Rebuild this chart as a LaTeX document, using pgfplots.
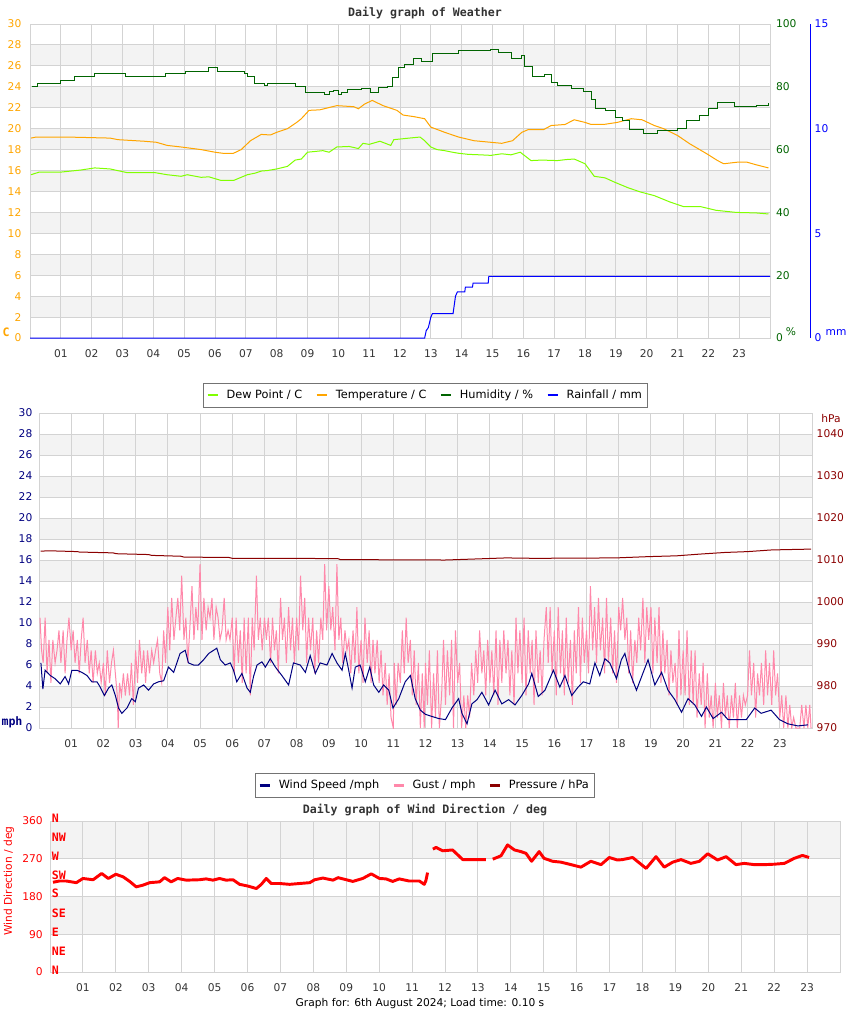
\documentclass[border=0pt]{standalone}
\usepackage{fontspec}
\setmainfont{DejaVu Sans}
\newfontfamily\mono{DejaVu Sans Mono}
\usepackage{pgfplots}
\pgfplotsset{compat=1.18}

\definecolor{tempc}{HTML}{FFA500}
\definecolor{dewc}{HTML}{80FF00}
\definecolor{humc}{HTML}{006400}
\definecolor{rainc}{HTML}{0000FF}
\definecolor{windc}{HTML}{000080}
\definecolor{gustc}{HTML}{FF88AA}
\definecolor{presc}{HTML}{8B0000}
\definecolor{dirc}{HTML}{FF0000}
\definecolor{gridc}{HTML}{D3D3D3}
\definecolor{bandc}{HTML}{F3F3F3}
\definecolor{tickc}{HTML}{333333}

% 1 px of the reference = 0.75pt
\pgfplotsset{
  base/.style={scale only axis, anchor=south west, xmin=0, xmax=24,
    major tick length=0pt, axis line style={gridc, line width=0.75pt},
    tick label style={font=\fontsize{8}{9}\selectfont},
    /pgf/number format/assume math mode=true,
    /pgf/number format/set thousands separator={}},
  xdeco/.style={xtick={1,...,23},
    xticklabels={01,02,03,04,05,06,07,08,09,10,11,12,13,14,15,16,17,18,19,20,21,22,23},
    xticklabel style={tickc, yshift=-5pt},
    xmajorgrids, ymajorgrids, grid style={gridc, line width=0.75pt}},
  leg/.style={legend columns=-1, legend cell align=left,
    legend style={draw=black!55, line width=0.75pt, fill=white,
      font=\fontsize{8.5}{10}\selectfont, inner xsep=2pt, inner ysep=3pt,
      /tikz/every odd column/.append style={column sep=4pt},
      /tikz/every even column/.append style={column sep=8pt}},
    legend image code/.code={\draw[##1, line width=1.6pt] (0pt,0pt) -- (7.5pt,0pt);}},
  p1/.style={at={(22.5pt,-253.5pt)}, width=555pt, height=235.5pt},
  p2/.style={at={(29.25pt,-546pt)}, width=579.75pt, height=236.25pt},
  p3/.style={at={(37.5pt,-729pt)}, width=592.5pt, height=113.25pt},
}

\begin{document}
\begin{tikzpicture}
\path[use as bounding box] (0pt,0pt) rectangle (637.5pt,-762.75pt);

\begin{scope}[x=0.75pt, y=0.75pt]
% background bands
\foreach \a in {2,6,...,26}{
  \fill[bandc] (30,{-338+\a*10.4667}) rectangle (770,{-338+(\a+2)*10.4667});
  \fill[bandc] (39,{-728+\a*10.5}) rectangle (812,{-728+(\a+2)*10.5});
}
\foreach \a in {90,270}{
  \fill[bandc] (50,{-972+\a*0.41944}) rectangle (840,{-972+(\a+90)*0.41944});
}

% titles and texts
\node[font={\mono\bfseries\fontsize{8.7}{10}\selectfont}, text=tickc] at (425,-13) {Daily graph of Weather};
\node[font={\mono\bfseries\fontsize{8.7}{10}\selectfont}, text=tickc, anchor=base] at (425,-405.5) {Daily graph of Wind};
\node[font={\mono\bfseries\fontsize{8.7}{10}\selectfont}, text=tickc] at (425,-810) {Daily graph of Wind Direction / deg};
\node[font={\fontsize{8}{9}\selectfont}] at (420,-1004) {Graph for: 6th August 2024; Load time: 0.10 s};
\node[font={\mono\bfseries\fontsize{8.7}{10}\selectfont}, text=tempc] at (6,-332) {C};
\node[font={\fontsize{8}{9}\selectfont}, text=humc] at (791,-332) {\%};
\node[font={\fontsize{8}{9}\selectfont}, text=rainc] at (836,-333) {mm};
\node[font={\mono\bfseries\fontsize{8.7}{10}\selectfont}, text=windc] at (12,-722) {mph};
\node[font={\fontsize{8}{9}\selectfont}, text=presc] at (831,-419) {hPa};
\node[font={\fontsize{8}{9}\selectfont}, text=dirc, rotate=90] at (9,-881) {Wind Direction / deg};
\end{scope}

% ---------- panel 1: weather ----------
\begin{axis}[base, xdeco, p1,
  ymin=0, ymax=30, ytick={0,2,...,30}, yticklabel style={tempc, xshift=-3pt}]
\addplot[dewc, line width=0.75pt] coordinates {
(0.03,15.6)(0.3,15.85)(1.0,15.85)(1.65,16.05)(2.1,16.25)(2.6,16.15)(3.15,15.8)
(4.05,15.8)(4.45,15.6)(4.9,15.45)(5.1,15.6)(5.55,15.35)(5.8,15.4)(6.2,15.05)
(6.6,15.05)(7.05,15.6)(7.3,15.75)(7.5,15.95)(7.7,16.0)(8.0,16.15)(8.35,16.4)(8.6,17.0)
(8.8,17.1)(9.0,17.75)(9.5,17.9)(9.7,17.75)(9.95,18.25)(10.35,18.3)(10.65,18.1)
(10.8,18.6)(11.0,18.5)(11.35,18.8)(11.7,18.4)(11.8,18.95)(12.3,19.1)(12.65,19.2)(12.8,18.85)
(13.0,18.25)(13.2,18.0)(13.45,17.9)(13.7,17.75)(13.9,17.65)(14.2,17.55)(14.6,17.5)(14.95,17.45)
(15.3,17.6)(15.6,17.5)(15.9,17.75)(16.25,16.95)(16.6,17.0)(17.1,16.95)(17.4,17.05)(17.65,17.1)
(18.0,16.65)(18.3,15.45)(18.65,15.3)(18.95,14.9)(19.4,14.35)(19.8,13.95)
(20.25,13.6)(20.75,13.0)(21.2,12.55)(21.75,12.55)(22.25,12.2)(22.9,12.0)
(23.55,11.95)(23.95,11.85)};
\addplot[tempc, line width=0.75pt] coordinates {
(0.03,19.1)(0.2,19.2)(1.2,19.2)(2.6,19.1)(2.85,18.95)(3.7,18.8)(4.1,18.7)
(4.45,18.4)(4.9,18.25)(5.55,18.0)(6.0,17.75)(6.25,17.65)(6.6,17.65)(6.85,18.0)
(7.15,18.85)(7.5,19.45)(7.8,19.4)(8.0,19.65)(8.35,20.0)(8.65,20.6)(8.8,20.95)
(9.05,21.75)(9.4,21.8)(9.95,22.2)(10.5,22.1)(10.65,21.9)(10.85,22.35)(11.1,22.7)
(11.45,22.2)(11.9,21.75)(12.1,21.3)(12.45,21.15)(12.8,20.95)(13.0,20.15)
(13.45,19.65)(13.9,19.2)(14.4,18.85)(15.3,18.6)(15.65,18.85)(15.95,19.65)
(16.15,19.9)(16.65,19.9)(16.9,20.3)(17.35,20.4)(17.65,20.85)(18.0,20.6)(18.2,20.4)
(18.6,20.4)(19.05,20.6)(19.5,20.95)(19.85,20.85)(20.25,20.3)(20.55,20.0)
(21.0,19.35)(21.4,18.55)(21.95,17.6)(22.3,16.95)(22.5,16.65)(22.95,16.8)
(23.25,16.8)(23.55,16.55)(23.95,16.25)};
\end{axis}

\begin{axis}[base, p1,
  ymin=0, ymax=100, ytick={0,20,...,100}, axis y line*=right, hide x axis,
  yticklabel style={humc, xshift=1pt}]
\addplot[humc, const plot, line width=0.75pt] coordinates {
(0.05,80.1)(0.25,80.9)(1.0,82.0)(1.45,83.2)(2.1,84.1)(3.1,83.2)(4.4,84.1)
(5.05,85.0)(5.78,86.0)(6.08,85.0)(6.85,85.0)(6.95,84.2)(7.05,83.2)(7.27,81.2)
(7.6,80.4)(7.7,81.0)(8.6,80.1)(8.95,78.2)(9.55,77.4)(9.7,78.5)(9.85,78.8)
(10.0,77.4)(10.1,78.2)(10.3,79.0)(10.75,79.6)(11.05,78.2)(11.3,79.8)(11.6,80.1)
(11.75,83.0)(11.95,86.2)(12.15,87.1)(12.45,88.9)(12.7,88.0)(13.05,90.5)
(13.9,91.5)(14.95,91.9)(15.2,91.0)(15.6,88.9)(15.95,89.9)(16.05,86.5)(16.3,83.2)
(16.7,83.9)(16.9,81.4)(17.1,80.4)(17.55,79.6)(17.95,78.6)(18.2,76.1)(18.35,73.0)
(18.65,72.6)(19.0,70.3)(19.2,69.2)(19.45,66.3)(19.8,66.3)(19.9,65.0)(20.35,66.1)
(21.0,66.8)(21.3,69.2)(21.7,70.8)(22.0,73.0)(22.3,74.9)(22.85,73.7)(23.15,73.7)
(23.55,73.9)(23.95,74.9)};
\end{axis}

\begin{axis}[base, leg, p1,
  ymin=0, ymax=15, ytick={0,5,10,15}, axis y line*=right, hide x axis,
  axis y line shift=30pt, y axis line style={rainc, line width=0.75pt},
  yticklabel style={rainc},
  legend style={at={(0.5345,-0.143)}, anchor=north}]
\addlegendimage{dewc}\addlegendentry{Dew Point / C}
\addlegendimage{tempc}\addlegendentry{Temperature / C}
\addlegendimage{humc}\addlegendentry{Humidity / \%}
\addlegendimage{rainc}\addlegendentry{Rainfall / mm}
\addplot[rainc, line width=0.75pt, forget plot] coordinates {
(0,0)(12.8,0)(12.85,0.35)(12.92,0.5)(13.0,1.0)(13.05,1.16)(13.72,1.16)(13.8,2.0)
(13.86,2.2)(14.1,2.2)(14.12,2.43)(14.35,2.43)(14.37,2.62)(14.86,2.62)(14.88,2.95)(24,2.95)};
\end{axis}

% ---------- panel 2: wind and pressure ----------
\begin{axis}[base, xdeco, p2,
  ymin=0, ymax=30, ytick={0,2,...,30}, yticklabel style={windc, xshift=-1.5pt}]
\addplot[gustc, line width=0.75pt] coordinates {
(0.03,10.5)(0.08,7.4)(0.13,6.2)(0.19,10.5)(0.25,5.2)(0.31,8.4)(0.37,4.3)(0.43,8.4)
(0.5,6.2)(0.56,7.4)(0.62,9.3)(0.68,6.2)(0.75,9.3)(0.81,5.2)(0.87,8.4)(0.93,10.5)(1.0,7.4)
(1.06,9.3)(1.12,6.2)(1.19,8.4)(1.25,5.2)(1.31,8.4)(1.37,10.5)(1.43,6.2)(1.5,8.4)
(1.56,5.2)(1.62,7.4)(1.68,4.3)(1.75,7.4)(1.81,5.2)(1.87,6.2)(1.93,4.3)(2.0,6.2)
(2.06,3.1)(2.12,7.4)(2.19,4.3)(2.25,6.2)(2.31,7.4)(2.37,5.2)(2.43,3.1)(2.46,0)
(2.5,4.3)(2.56,3.1)(2.62,5.2)(2.68,3.1)(2.75,5.2)(2.81,3.1)(2.87,6.2)(2.93,2.2)(3.0,7.4)
(3.06,4.3)(3.12,8.4)(3.19,5.2)(3.25,7.4)(3.31,4.3)(3.37,7.4)(3.43,5.2)(3.5,7.4)
(3.56,6.2)(3.62,7.4)(3.68,8.4)(3.75,5.2)(3.81,4.3)(3.87,9.3)(3.93,6.2)(4.0,11.5)
(4.06,7.4)(4.12,12.4)(4.19,8.4)(4.25,10.5)(4.31,12.4)(4.37,9.3)(4.43,14.5)(4.5,8.4)
(4.56,10.5)(4.62,6.2)(4.68,9.3)(4.75,13.5)(4.81,8.4)(4.87,11.5)(4.93,9.3)(5.0,15.6)
(5.06,8.4)(5.12,12.4)(5.19,9.3)(5.25,11.5)(5.31,10.5)(5.37,12.4)(5.43,8.4)(5.5,11.5)
(5.56,10.5)(5.62,8.4)(5.68,9.3)(5.75,12.4)(5.81,8.4)(5.87,9.3)(5.93,8.4)(6.0,10.5)
(6.06,5.2)(6.12,10.5)(6.19,6.2)(6.25,9.3)(6.31,4.3)(6.37,10.5)(6.43,5.2)(6.5,10.5)
(6.56,3.1)(6.62,10.5)(6.68,7.4)(6.75,14.5)(6.81,8.4)(6.87,10.5)(6.93,7.4)(7.0,10.5)
(7.06,8.4)(7.12,10.5)(7.19,6.2)(7.25,10.5)(7.31,7.4)(7.37,9.3)(7.43,5.2)(7.5,12.4)
(7.56,8.4)(7.62,10.5)(7.68,6.2)(7.75,11.5)(7.81,7.4)(7.87,10.5)(7.93,6.2)(8.0,10.5)
(8.06,7.4)(8.12,14.5)(8.19,9.3)(8.25,12.4)(8.31,6.2)(8.37,10.5)(8.43,7.4)(8.5,10.5)
(8.56,5.2)(8.62,9.3)(8.68,6.2)(8.75,10.5)(8.81,8.4)(8.87,15.6)(8.93,9.3)(9.0,13.5)
(9.06,9.3)(9.12,11.5)(9.19,7.4)(9.25,15.6)(9.31,8.4)(9.37,10.5)(9.43,6.2)(9.5,9.3)
(9.56,7.4)(9.62,8.4)(9.68,5.2)(9.75,9.3)(9.81,6.2)(9.87,11.5)(9.93,5.2)(10.0,8.4)
(10.06,4.3)(10.12,10.5)(10.19,6.2)(10.25,9.3)(10.31,4.3)(10.37,8.4)(10.43,5.2)(10.5,8.4)
(10.56,4.3)(10.62,7.4)(10.68,3.1)(10.75,6.2)(10.81,2.2)(10.87,5.2)(10.93,1.0)(11.0,0)
(11.03,6.2)(11.09,2.2)(11.15,6.2)(11.22,4.3)(11.28,9.3)(11.34,5.2)(11.4,10.5)(11.46,6.2)
(11.53,8.4)(11.59,3.1)(11.65,7.4)(11.71,2.2)(11.78,6.2)(11.84,0)(11.9,5.2)(11.96,0)(12.0,6.2)
(12.06,2.2)(12.12,7.4)(12.19,0)(12.25,5.2)(12.31,1.0)(12.37,7.4)(12.43,0)(12.5,3.1)
(12.56,8.4)(12.62,2.2)(12.68,7.4)(12.75,3.1)(12.81,8.4)(12.87,0)(12.93,9.3)(13.0,4.3)
(13.06,6.2)(13.12,0)(13.19,3.1)(13.25,0)(13.31,3.1)(13.37,1.0)(13.43,6.2)(13.5,3.1)
(13.56,7.4)(13.62,4.3)(13.68,9.3)(13.75,5.2)(13.81,7.4)(13.87,3.1)(13.93,8.4)(14.0,4.3)
(14.06,7.4)(14.12,3.1)(14.19,9.3)(14.25,2.2)(14.31,8.4)(14.37,4.3)(14.43,9.3)(14.5,5.2)
(14.56,8.4)(14.62,3.1)(14.68,7.4)(14.75,2.2)(14.81,10.5)(14.87,5.2)(14.93,9.3)(15.0,4.3)
(15.06,10.5)(15.12,3.1)(15.19,9.3)(15.25,5.2)(15.31,8.4)(15.37,2.2)(15.43,9.3)(15.5,4.3)
(15.56,7.4)(15.62,3.1)(15.68,8.4)(15.75,11.5)(15.81,6.2)(15.87,11.5)(15.93,5.2)(16.0,9.3)
(16.06,3.1)(16.12,11.5)(16.19,5.2)(16.25,9.3)(16.31,3.1)(16.37,10.5)(16.43,4.3)(16.5,8.4)
(16.56,2.2)(16.62,9.3)(16.68,5.2)(16.75,11.5)(16.81,4.3)(16.87,10.5)(16.93,6.2)(17.0,9.3)
(17.06,5.2)(17.12,13.5)(17.19,7.4)(17.25,11.5)(17.31,6.2)(17.37,12.4)(17.43,7.4)(17.5,10.5)
(17.56,5.2)(17.62,12.4)(17.68,6.2)(17.75,10.5)(17.81,5.2)(17.87,9.3)(17.93,4.3)(18.0,11.5)
(18.06,9.3)(18.12,12.4)(18.19,8.4)(18.25,10.5)(18.31,5.2)(18.37,9.3)(18.43,4.3)(18.5,8.4)
(18.56,6.2)(18.62,10.5)(18.68,7.4)(18.75,12.4)(18.81,6.2)(18.87,11.5)(18.93,8.4)(19.0,11.5)
(19.06,5.2)(19.12,10.5)(19.19,6.2)(19.25,11.5)(19.31,4.3)(19.37,9.3)(19.43,5.2)(19.5,8.4)
(19.56,3.1)(19.62,7.4)(19.68,4.3)(19.75,6.2)(19.81,2.2)(19.87,9.3)(19.93,3.1)(20.0,7.4)
(20.06,3.1)(20.12,9.3)(20.19,2.2)(20.25,7.4)(20.31,2.2)(20.37,7.4)(20.43,1.0)(20.5,5.2)
(20.56,2.2)(20.62,6.2)(20.68,0)(20.75,5.2)(20.81,1.0)(20.87,3.1)(20.93,0)(21.0,4.3)
(21.06,1.0)(21.12,3.1)(21.19,0)(21.25,4.3)(21.31,1.0)(21.37,3.1)(21.43,0)(21.5,3.1)
(21.56,1.0)(21.62,4.3)(21.68,0)(21.75,3.1)(21.81,1.0)(21.87,3.1)(21.93,2.2)(22.0,3.1)
(22.06,7.4)(22.12,3.1)(22.19,6.2)(22.25,1.0)(22.31,5.2)(22.37,3.1)(22.43,6.2)(22.5,2.2)
(22.56,7.4)(22.62,3.1)(22.68,6.2)(22.75,2.2)(22.81,7.4)(22.87,3.1)(22.93,5.2)(23.0,1.0)
(23.06,3.1)(23.12,0)(23.19,3.1)(23.25,0)(23.31,2.2)(23.37,0)(23.43,1.0)(23.5,0)
(23.56,0)(23.62,0)(23.68,2.2)(23.75,0)(23.81,2.2)(23.87,0)(23.93,2.2)(23.97,0)};
\addplot[windc, line width=0.75pt] coordinates {
(0.06,6.2)(0.12,3.7)(0.19,5.5)(0.35,5.0)(0.5,4.7)(0.66,4.2)(0.81,4.9)(0.92,4.2)
(1.02,5.5)(1.18,5.5)(1.33,5.3)(1.49,5.0)(1.64,4.4)(1.8,4.4)(1.9,3.9)(2.03,3.1)
(2.16,3.8)(2.26,4.1)(2.37,3.1)(2.47,1.9)(2.57,1.4)(2.73,1.9)(2.88,2.8)(2.99,2.5)
(3.09,3.8)(3.25,4.1)(3.4,3.6)(3.56,4.2)(3.71,4.4)(3.87,4.5)(4.02,5.8)(4.18,5.3)
(4.38,7.1)(4.54,7.4)(4.64,6.2)(4.8,6.0)(4.95,6.0)(5.11,6.5)(5.27,7.1)(5.52,7.6)
(5.63,6.5)(5.78,6.0)(5.94,6.2)(6.04,5.5)(6.14,4.4)(6.3,5.2)(6.46,3.8)(6.56,3.4)
(6.66,4.9)(6.77,6.0)(6.92,6.3)(7.03,5.8)(7.18,6.6)(7.34,5.8)(7.54,5.0)(7.75,4.1)
(7.9,6.2)(8.11,6.0)(8.27,5.3)(8.42,6.9)(8.58,5.2)(8.73,6.2)(8.94,6.0)(9.1,7.1)
(9.25,6.2)(9.41,5.5)(9.51,7.1)(9.61,5.6)(9.72,3.8)(9.82,5.8)(9.97,6.0)(10.13,4.4)
(10.27,5.8)(10.39,4.1)(10.55,3.4)(10.7,4.1)(10.86,3.6)(10.99,1.9)(11.17,2.8)(11.37,4.4)
(11.53,5.0)(11.68,2.8)(11.84,1.7)(12.0,1.3)(12.2,1.1)(12.41,0.9)(12.62,0.8)(12.82,1.9)
(13.03,2.8)(13.13,1.4)(13.29,0.4)(13.44,2.3)(13.6,2.7)(13.75,3.4)(13.96,2.2)(14.16,3.6)
(14.37,2.3)(14.58,2.7)(14.78,2.2)(14.99,3.1)(15.2,4.2)(15.3,5.2)(15.5,3.0)(15.71,3.6)
(15.97,5.5)(16.17,3.9)(16.33,5.0)(16.54,3.1)(16.74,3.9)(16.9,4.4)(17.1,4.2)(17.26,6.2)
(17.41,5.0)(17.57,6.6)(17.72,6.2)(17.93,4.7)(18.08,6.5)(18.19,7.1)(18.34,5.3)(18.55,3.6)
(18.76,5.3)(18.91,6.5)(19.12,4.1)(19.33,5.3)(19.53,3.6)(19.74,2.7)(19.95,1.5)(20.15,2.8)
(20.36,2.2)(20.57,1.1)(20.72,2.0)(20.93,0.9)(21.19,1.5)(21.39,0.8)(21.7,0.8)(21.96,0.8)
(22.22,1.9)(22.42,1.4)(22.73,1.7)(22.99,0.8)(23.25,0.4)(23.56,0.2)(23.87,0.3)};
\end{axis}

\begin{axis}[base, leg, p2,
  ymin=970, ymax=1045, ytick={970,980,...,1040}, axis y line*=right, hide x axis,
  yticklabel style={presc},
  legend style={at={(0.4994,-0.143)}, anchor=north}]
\addlegendimage{windc}\addlegendentry{Wind Speed /mph}
\addlegendimage{gustc}\addlegendentry{Gust / mph}
\addlegendimage{presc}\addlegendentry{Pressure / hPa}
\addplot[presc, line width=0.75pt, forget plot] coordinates {
(0.05,1012.1)(0.3,1012.2)(1.2,1012.0)(1.25,1011.9)(2.3,1011.7)(2.4,1011.5)
(3.4,1011.3)(3.5,1011.1)(4.4,1010.9)(4.5,1010.7)(5.9,1010.6)(6.0,1010.4)
(8.1,1010.4)(9.3,1010.3)(9.35,1010.1)(12.6,1010.0)(13.0,1010.1)(14.5,1010.5)
(15.4,1010.4)(17.9,1010.5)(18.9,1010.8)(19.8,1011.0)(20.5,1011.4)(21.3,1011.8)
(22.0,1012.0)(22.75,1012.4)(23.97,1012.6)};
\end{axis}

% ---------- panel 3: wind direction ----------
\begin{axis}[base, xdeco, p3,
  ymin=0, ymax=360, ytick={0,90,...,360}, yticklabel style={dirc, xshift=-2pt},
  clip mode=individual, unbounded coords=jump]
\addplot[dirc, line width=2.2pt, line join=round] coordinates {
(0.09,214)(0.29,217)(0.49,217)(0.8,213)(1.0,223)(1.31,220)(1.57,235)(1.77,223)
(2.0,233)(2.22,227)(2.42,216)(2.62,203)(2.82,207)(3.03,213)(3.33,215)(3.48,225)
(3.68,215)(3.88,223)(4.14,219)(4.54,220)(4.74,222)(4.95,219)(5.15,223)(5.35,219)
(5.56,220)(5.76,209)(6.01,205)(6.27,199)(6.42,209)(6.57,223)(6.72,211)(6.98,211)
(7.28,209)(7.58,211)(7.89,213)(8.04,220)(8.29,224)(8.6,219)(8.75,225)(9.0,220)
(9.2,216)(9.5,223)(9.76,234)(10.01,223)(10.21,222)(10.41,216)(10.61,222)(10.91,217)
(11.22,217)(11.37,209)(11.42,218)(11.47,237)
(11.55,nan)
(11.63,293)(11.73,297)(11.93,289)(12.23,291)(12.54,268)(12.99,268)(13.24,268)
(13.35,nan)
(13.45,269)(13.70,277)(13.90,303)(14.11,291)(14.31,287)(14.46,283)(14.63,264)
(14.86,287)(15.01,271)(15.27,264)(15.52,262)(15.83,256)(16.13,250)(16.43,264)
(16.74,256)(16.99,273)(17.24,267)(17.39,268)(17.70,273)(18.11,247)(18.41,275)
(18.66,250)(18.92,262)(19.17,268)(19.47,259)(19.73,264)(19.98,282)(20.28,267)
(20.54,275)(20.84,256)(21.09,259)(21.40,256)(21.70,256)(22.00,257)(22.31,259)
(22.61,271)(22.86,278)(23.06,273)};
\begin{scope}[font={\mono\bfseries\fontsize{8.7}{10}\selectfont}, text=dirc]
\node[anchor=west, inner sep=0pt] at (axis cs:0.05,367) {N};
\node[anchor=west, inner sep=0pt] at (axis cs:0.05,322) {NW};
\node[anchor=west, inner sep=0pt] at (axis cs:0.05,276) {W};
\node[anchor=west, inner sep=0pt] at (axis cs:0.05,231) {SW};
\node[anchor=west, inner sep=0pt] at (axis cs:0.05,188) {S};
\node[anchor=west, inner sep=0pt] at (axis cs:0.05,141) {SE};
\node[anchor=west, inner sep=0pt] at (axis cs:0.05,95) {E};
\node[anchor=west, inner sep=0pt] at (axis cs:0.05,50) {NE};
\node[anchor=west, inner sep=0pt] at (axis cs:0.05,5) {N};
\end{scope}
\end{axis}
\end{tikzpicture}
\end{document}
